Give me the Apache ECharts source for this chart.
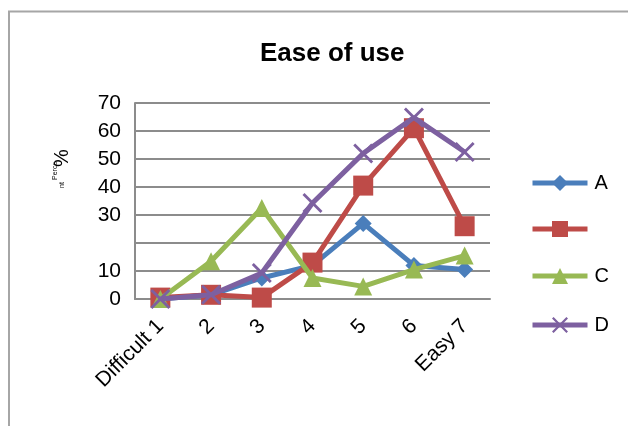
<!DOCTYPE html>
<html>
<head>
<meta charset="utf-8">
<script src="https://cdn.jsdelivr.net/npm/echarts@6/dist/echarts.min.js"></script>
<style>html,body{margin:0;padding:0;background:#fff}#c{width:628px;height:426px}</style>
</head>
<body>
<div id="c"></div>
<script>
var categories = ['Difficult 1', '2', '3', '4', '5', '6', 'Easy 7'];
var seriesA = [0, 1.5, 7.5, 12, 27, 12, 10.5];
var seriesB = [0.5, 1.5, 0.5, 13, 40.5, 61, 26];
var seriesC = [0, 13.5, 32.5, 7.5, 4.5, 10.5, 15.5];
var seriesD = [0, 1.5, 9.3, 34.3, 52, 64.8, 52.5];
var yTickLabels = ['0', '10', '', '30', '40', '50', '60', '70'];
var names = ['A', 'B', 'C', 'D'];
var legendLabels = {A: 'A', B: '', C: 'C', D: 'D'};

var colors = ['#4A7EBB', '#BE4B48', '#98B954', '#7D60A0'];
var xPath = 'path://M0,1L1,0L5,4L9,0L10,1L6,5L10,9L9,10L5,6L1,10L0,9L4,5Z';
var symbols = ['diamond', 'rect', 'triangle', xPath];
var symbolSizes = [17, 20, 18, 20];
var data = [seriesA, seriesB, seriesC, seriesD];
var legendTops = [173, 219, 266, 315];

var chart = echarts.init(document.getElementById('c'), null, {renderer: 'canvas'});
var font = 'Liberation Sans, Arial, sans-serif';

var series = names.map(function (n, i) {
  return {
    name: n,
    type: 'line',
    data: data[i],
    symbol: symbols[i],
    symbolSize: symbolSizes[i],
    lineStyle: {width: 5, color: colors[i]},
    itemStyle: {color: colors[i]},
    z: 2 + i,
    animation: false
  };
});

var legends = names.map(function (n, i) {
  return {
    data: [n],
    left: 530,
    top: legendTops[i],
    padding: 0,
    orient: 'vertical',
    itemWidth: 55,
    itemHeight: 20,
    itemGap: 0,
    lineStyle: {width: 5},
    formatter: function (name) { return legendLabels[name]; },
    textStyle: {fontSize: 20, fontFamily: font, color: '#000', padding: [0, 0, 0, 2]},
    selectedMode: false
  };
});

chart.setOption({
  backgroundColor: '#fff',
  animation: false,
  title: {
    text: 'Ease of use',
    left: 255,
    top: 36,
    textStyle: {fontSize: 26, fontWeight: 'bold', fontFamily: font, color: '#000'}
  },
  legend: legends,
  grid: {left: 135, top: 103, right: 138, bottom: 127, containLabel: false},
  xAxis: {
    type: 'category',
    data: categories,
    boundaryGap: true,
    axisLine: {lineStyle: {color: '#8c8c8c', width: 2}},
    axisTick: {show: false},
    axisLabel: {rotate: 45, fontSize: 21, fontFamily: font, color: '#000', margin: 24, interval: 0}
  },
  yAxis: {
    type: 'value',
    min: 0,
    max: 70,
    interval: 10,
    axisLine: {show: true, lineStyle: {color: '#8c8c8c', width: 2}},
    axisTick: {show: false},
    splitLine: {lineStyle: {color: '#8c8c8c', width: 2}},
    axisLabel: {
      fontSize: 21, fontFamily: font, color: '#000', margin: 14,
      formatter: function (v) { return yTickLabels[Math.round(v / 10)]; }
    }
  },
  graphic: [
    {type: 'rect', shape: {x: 9, y: 11.5, width: 700, height: 500}, style: {fill: 'none', stroke: '#a6a6a6', lineWidth: 2}, silent: true, z: -1},
    {type: 'text', x: 52, y: 180, rotation: Math.PI / 2, style: {text: 'Perce', fontSize: 7, fontFamily: font, fill: '#000'}},
    {type: 'text', x: 59, y: 188, rotation: Math.PI / 2, style: {text: 'nt', fontSize: 7, fontFamily: font, fill: '#000'}},
    {type: 'text', x: 52, y: 167, rotation: Math.PI / 2, style: {text: '%', fontSize: 20, fontFamily: font, fill: '#000'}}
  ],
  series: series
});
</script>
</body>
</html>
